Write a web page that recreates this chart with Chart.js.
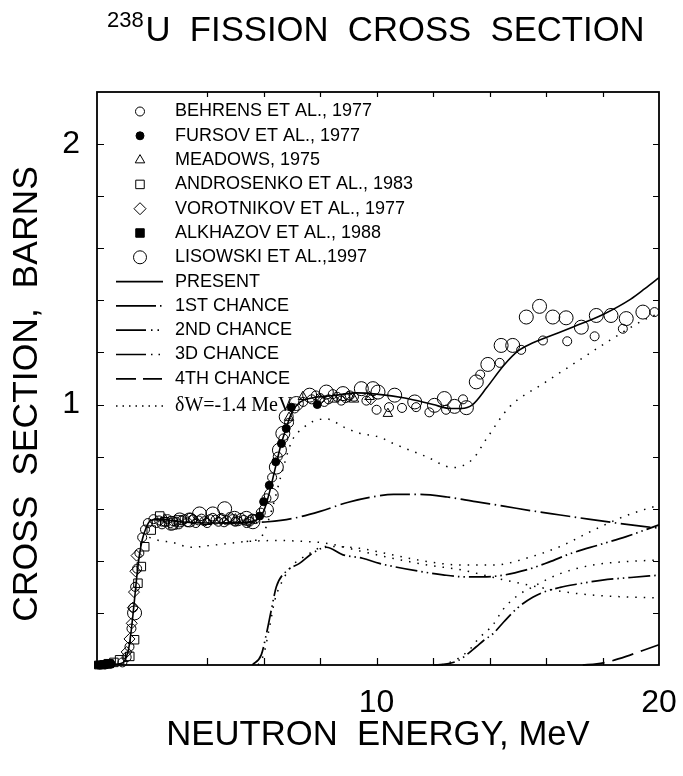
<!DOCTYPE html>
<html><head><meta charset="utf-8">
<script src="https://cdn.jsdelivr.net/npm/chart.js@4.4.1/dist/chart.umd.min.js"></script>
<style>html,body{margin:0;padding:0;background:#fff;}#wrap{width:683px;height:776px;}</style>
</head><body><div id="wrap"><canvas id="c" width="683" height="776"></canvas></div>
<script>
// ---------- data (energy in MeV, cross section in barns) ----------
const xTickLabels = [10, 20];
const yTickLabels = [1, 2];

const presentE = [0.1,0.5,0.9,1.1,1.25,1.4,1.5,1.6,1.7,1.85,2.0,2.3,3.0,4.0,5.0,5.5,5.8,6.0,6.2,6.4,6.6,6.8,7.0,7.3,7.7,8.5,9.3,10.0,11.0,12.0,12.6,13.0,13.4,13.9,14.5,15.0,15.5,16.0,17.0,18.0,19.0,19.5,20.0];
const presentS = [0.0,0.0,0.005,0.02,0.08,0.22,0.33,0.42,0.48,0.53,0.555,0.56,0.55,0.545,0.545,0.55,0.56,0.59,0.66,0.75,0.84,0.91,0.97,1.01,1.025,1.035,1.045,1.04,1.025,1.0,0.985,0.985,1.0,1.065,1.15,1.205,1.235,1.257,1.30,1.345,1.405,1.445,1.487];

const firstE = [4.5,5.5,6.15,7.0,8.0,9.0,10.0,10.6,11.5,12.5,13.5,14.5,15.5,16.5,17.5,18.5,20.0];
const firstS = [0.545,0.547,0.55,0.562,0.59,0.625,0.648,0.655,0.655,0.645,0.627,0.61,0.592,0.576,0.56,0.545,0.525];

const secondE = [5.6,5.92,6.1,6.27,6.45,6.8,7.27,7.74,8.22,8.81,9.5,10.1,10.6,11.5,12.35,13.2,14.1,15.3,16.1,16.9,17.9,18.84,20.0];
const secondS = [0.0,0.04,0.12,0.21,0.30,0.36,0.39,0.43,0.452,0.423,0.41,0.39,0.378,0.36,0.346,0.338,0.34,0.365,0.395,0.429,0.462,0.493,0.538];

const thirdE = [12.0,12.5,12.9,13.2,13.53,13.8,14.12,14.5,15.0,15.53,16.0,16.5,17.07,18.0,19.0,20.0];
const thirdS = [0.0,0.004,0.018,0.04,0.07,0.095,0.12,0.165,0.22,0.26,0.283,0.298,0.31,0.326,0.336,0.345];

const fourthE = [17.3,17.8,18.3,18.84,19.4,20.0];
const fourthS = [0.0,0.004,0.015,0.033,0.055,0.078];

// delta W = -1.4 MeV calculations (dotted)
const dwTotalE = [5.4,5.9,6.3,6.6,7.0,7.4,7.74,8.22,8.9,9.4,10.1,10.6,11.76,12.7,13.4,13.9,14.7,15.9,17.07,18.25,19.43,20.0];
const dwTotalS = [0.474,0.49,0.60,0.72,0.86,0.91,0.935,0.945,0.91,0.89,0.875,0.85,0.80,0.758,0.79,0.87,0.99,1.08,1.163,1.246,1.323,1.35];
const dwFirstE = [1.95,2.3,2.8,3.4,4.2,5.4,6.5,7.5,8.2,9.4,10.6,11.8,13.0,14.5,15.7,16.5,17.7,20.0];
const dwFirstS = [0.49,0.478,0.47,0.452,0.46,0.474,0.478,0.474,0.468,0.438,0.409,0.384,0.365,0.327,0.30,0.283,0.268,0.257];
const dwSecondE = [5.8,6.0,6.2,6.4,6.7,7.0,7.5,8.2,9.4,10.6,11.8,13.0,14.2,15.3,16.5,17.7,18.9,20.0];
const dwSecondS = [0.0,0.04,0.14,0.25,0.33,0.38,0.42,0.455,0.448,0.422,0.397,0.384,0.384,0.41,0.455,0.519,0.576,0.614];
const dwThirdE = [12.3,12.8,13.3,13.6,14.12,14.47,14.95,15.53,16.48,17.66,18.84,20.0];
const dwThirdS = [0.0,0.02,0.06,0.10,0.154,0.212,0.263,0.30,0.35,0.384,0.397,0.403];

// experimental points
const behrensE = [1.0,1.15,1.25,1.32,1.38,1.45,1.52,1.6,1.7,1.8,1.9,2.1,2.2,2.3,2.4,2.5,2.6,2.7,2.8,2.9,3.0,3.1,3.2,3.3,3.4,3.5,3.6,3.7,3.8,3.9,4.0,4.1,4.2,4.3,4.4,4.5,4.6,4.7,4.8,4.9,5.0,5.1,5.2,5.3,5.4,5.5,5.6,5.7,5.9,6.1,6.3,6.5,6.7,6.9,7.1,7.4,7.7,7.85,8.0,8.15,8.3,8.45,8.6,8.75,8.9,9.05,9.2,9.64,10.0,10.44,10.9,11.4,11.87,12.46,13.06,13.67,14.36,15.12,15.89,16.75,17.72,18.72,19.84];
const behrensS = [0.01,0.03,0.07,0.14,0.22,0.30,0.37,0.43,0.49,0.52,0.545,0.56,0.545,0.555,0.54,0.55,0.56,0.545,0.552,0.55,0.54,0.555,0.56,0.548,0.565,0.56,0.545,0.555,0.562,0.552,0.545,0.56,0.565,0.558,0.55,0.565,0.548,0.555,0.568,0.56,0.55,0.552,0.565,0.557,0.545,0.55,0.562,0.56,0.585,0.64,0.72,0.80,0.87,0.93,0.985,1.01,1.02,1.035,1.025,1.01,1.02,1.04,1.03,1.015,1.025,1.035,1.03,1.015,0.98,0.99,0.987,0.99,0.97,0.98,1.02,1.115,1.16,1.21,1.246,1.243,1.262,1.291,1.355];

const fursovE = [0.2,0.4,0.6,5.86,6.0,6.2,6.43,6.63,6.8,6.98,7.9];
const fursovS = [0.0,0.0,0.004,0.572,0.627,0.69,0.78,0.85,0.908,0.99,1.0];

const meadowsE = [2.5,4.0,5.0,6.9,7.39,8.5,9.2,9.75,10.4];
const meadowsS = [0.56,0.55,0.56,0.95,1.03,1.02,1.02,1.03,0.965];

const androsenkoE = [0.5,0.7,0.9,1.26,1.43,1.55,1.67,1.79,2.02,2.32,2.5,2.79,3.0];
const androsenkoS = [0.005,0.01,0.02,0.033,0.097,0.314,0.378,0.454,0.518,0.572,0.55,0.538,0.557];

const vorotnikovE = [1.15,1.25,1.33,1.37,1.41,1.46,1.5,3.5,4.5,5.5,8.0,9.0,9.8];
const vorotnikovS = [0.05,0.1,0.16,0.22,0.28,0.36,0.42,0.56,0.56,0.555,1.02,1.03,1.02];

const alkhazovE = [0.15,0.25,0.35,0.45,0.55];
const alkhazovS = [0.0,0.0,0.002,0.003,0.005];

const lisowskiE = [1.43,2.73,3.03,3.38,3.73,4.2,4.62,4.97,5.39,5.62,6.1,6.27,6.45,6.56,6.68,6.8,7.16,7.63,8.22,8.81,9.46,9.87,10.05,10.64,11.35,12.05,12.4,12.76,13.18,13.53,13.94,14.41,14.82,15.3,15.77,16.24,16.71,17.25,17.78,18.3,18.84,19.43];
const lisowskiS = [0.2,0.544,0.557,0.557,0.58,0.58,0.60,0.563,0.563,0.55,0.595,0.652,0.76,0.825,0.889,0.953,1.004,1.036,1.048,1.042,1.061,1.061,1.048,1.036,1.01,0.997,1.023,0.993,0.988,1.087,1.154,1.227,1.227,1.336,1.377,1.336,1.333,1.297,1.342,1.342,1.33,1.355];

// ---------- helpers ----------
const pts = (E, S) => E.map((e, i) => ({x: e, y: S[i]}));
const SANS = '"Liberation Sans", Arial, Helvetica, sans-serif';
const SERIF = '"Liberation Serif", "Times New Roman", serif';
const DOT = [1.5, 7];

function lineDS(label, E, S, dash, width) {
  return {label, data: pts(E, S), showLine: true, pointRadius: 0, borderColor: '#000',
    borderWidth: width, borderDash: dash, cubicInterpolationMode: 'monotone', fill: false, clip: false};
}
function pointDS(label, E, S, style, r, filled) {
  return {label, data: pts(E, S), showLine: false, pointStyle: style, pointRadius: r,
    pointBorderColor: '#000', pointBackgroundColor: filled ? '#000' : 'rgba(0,0,0,0)',
    pointBorderWidth: 1, clip: false};
}

const datasets = [
  lineDS('PRESENT', presentE, presentS, [], 1.6),
  lineDS('1ST CHANCE', firstE, firstS, [30, 4.5, 1.5, 4.5], 1.7),
  lineDS('2ND CHANCE', secondE, secondS, [22, 4, 1.5, 4, 1.5, 4], 1.7),
  lineDS('3D CHANCE', thirdE, thirdS, [22, 4, 1.5, 4, 1.5, 4], 1.7),
  lineDS('4TH CHANCE', fourthE, fourthS, [22, 8], 1.7),
  lineDS('δW=-1.4 MeV', dwTotalE, dwTotalS, DOT, 1.5),
  lineDS('δW 1st', dwFirstE, dwFirstS, DOT, 1.5),
  lineDS('δW 2nd', dwSecondE, dwSecondS, DOT, 1.5),
  lineDS('δW 3rd', dwThirdE, dwThirdS, DOT, 1.5),
  pointDS('BEHRENS ET AL., 1977', behrensE, behrensS, 'circle', 4.5, false),
  pointDS('FURSOV ET AL., 1977', fursovE, fursovS, 'circle', 4, true),
  pointDS('MEADOWS, 1975', meadowsE, meadowsS, 'triangle', 5.5, false),
  pointDS('ANDROSENKO ET AL., 1983', androsenkoE, androsenkoS, 'rect', 6, false),
  pointDS('VOROTNIKOV ET AL., 1977', vorotnikovE, vorotnikovS, 'rectRot', 5.5, false),
  pointDS('ALKHAZOV ET AL., 1988', alkhazovE, alkhazovS, 'rect', 5.5, true),
  pointDS('LISOWSKI ET AL.,1997', lisowskiE, lisowskiS, 'circle', 7, false)
];

// ---------- legend (drawn inside plot area) ----------
const legendRows = [
  {t: 'BEHRENS ET AL., 1977', pt: 'circle', r: 4.5, f: false},
  {t: 'FURSOV ET AL., 1977', pt: 'circle', r: 4, f: true},
  {t: 'MEADOWS, 1975', pt: 'triangle', r: 5.5, f: false},
  {t: 'ANDROSENKO ET AL., 1983', pt: 'rect', r: 6, f: false},
  {t: 'VOROTNIKOV ET AL., 1977', pt: 'rectRot', r: 6, f: false},
  {t: 'ALKHAZOV ET AL., 1988', pt: 'rect', r: 6, f: true},
  {t: 'LISOWSKI ET AL.,1997', pt: 'circle', r: 6.5, f: false},
  {t: 'PRESENT', dash: []},
  {t: '1ST CHANCE', dash: [40, 4, 1.5, 10]},
  {t: '2ND CHANCE', dash: [30, 5, 1.5, 5, 1.5, 10]},
  {t: '3D CHANCE', dash: [30, 5, 1.5, 6, 1.5, 10]},
  {t: '4TH CHANCE', dash: [20, 7, 19, 10]},
  {t: 'δW=-1.4 MeV', dash: [1.5, 5], serif: true}
];

const legendPlugin = {
  id: 'insideLegend',
  afterDatasetsDraw(chart) {
    const ctx = chart.ctx;
    ctx.save();
    legendRows.forEach((row, i) => {
      const y = 111.5 + i * 24.3 + (row.serif ? 3 : 0);
      if (row.pt) {
        ctx.fillStyle = row.f ? '#000' : 'rgba(0,0,0,0)';
        ctx.strokeStyle = '#000';
        ctx.lineWidth = 1;
        Chart.helpers.drawPoint(ctx, {pointStyle: row.pt, radius: row.r, borderWidth: 1, rotation: 0}, 140, y);
      } else {
        ctx.strokeStyle = '#000';
        ctx.lineWidth = row.serif ? 1.5 : 1.7;
        ctx.setLineDash(row.dash);
        ctx.beginPath();
        ctx.moveTo(116, y);
        ctx.lineTo(163, y);
        ctx.stroke();
        ctx.setLineDash([]);
      }
      ctx.fillStyle = '#000';
      ctx.textBaseline = 'middle';
      ctx.textAlign = 'left';
      ctx.font = row.serif ? '20px ' + SERIF : '18px ' + SANS;
      ctx.fillText(row.t, 175, y);
    });
    ctx.restore();
  }
};

// ---------- frame with inward ticks ----------
const framePlugin = {
  id: 'frame',
  afterDraw(chart) {
    const {ctx, chartArea: a, scales: {x, y}} = chart;
    ctx.save();
    ctx.strokeStyle = '#000';
    ctx.lineWidth = 1.8;
    ctx.strokeRect(a.left, a.top, a.right - a.left, a.bottom - a.top);
    ctx.lineWidth = 1.2;
    ctx.beginPath();
    x.ticks.forEach(t => {
      if (t.value <= x.min + 0.5 || t.value >= x.max - 0.01) return;
      const px = Math.round(x.getPixelForValue(t.value)) + 0.5;
      ctx.moveTo(px, a.bottom); ctx.lineTo(px, a.bottom - 7);
      ctx.moveTo(px, a.top); ctx.lineTo(px, a.top + 5);
    });
    y.ticks.forEach(t => {
      if (t.value <= y.min + 0.01 || t.value >= y.max - 0.01) return;
      const py = Math.round(y.getPixelForValue(t.value)) + 0.5;
      ctx.moveTo(a.left, py); ctx.lineTo(a.left + 7, py);
      ctx.moveTo(a.right, py); ctx.lineTo(a.right - 6, py);
    });
    ctx.stroke();
    ctx.restore();
  }
};

// ---------- title with superscript, rotated y title ----------
const titlePlugin = {
  id: 'supTitle',
  afterDraw(chart) {
    const ctx = chart.ctx;
    ctx.save();
    ctx.fillStyle = '#000';
    ctx.textAlign = 'left';
    ctx.textBaseline = 'alphabetic';
    ctx.font = '22px ' + SANS;
    ctx.fillText('238', 107, 27);
    ctx.font = '34.7px ' + SANS;
    ctx.fillText('U  FISSION  CROSS  SECTION', 145.5, 41);
    ctx.restore();
    // y axis title
    ctx.save();
    ctx.translate(27, 394);
    ctx.rotate(-Math.PI / 2);
    ctx.fillStyle = '#000';
    ctx.textAlign = 'center';
    ctx.textBaseline = 'middle';
    ctx.font = '35.5px ' + SANS;
    ctx.fillText('CROSS  SECTION,  BARNS', 0, 0);
    ctx.restore();
  }
};

const near = (v, list) => list.some(l => Math.abs(v - l) < 1e-6);

new Chart(document.getElementById('c').getContext('2d'), {
  type: 'scatter',
  data: {datasets},
  options: {
    responsive: false, animation: false, devicePixelRatio: 1,
    layout: {padding: {top: 92, right: 24, left: 0, bottom: 0}},
    plugins: {legend: {display: false}, tooltip: {enabled: false}, title: {display: false}},
    scales: {
      x: {
        type: 'linear', min: 0.1, max: 20,
        afterFit(s) { s.height = 111; },
        grid: {display: false, drawTicks: false},
        border: {display: false},
        ticks: {stepSize: 2, autoSkip: false, maxRotation: 0, padding: 0, color: '#000',
          font: {family: SANS, size: 32, lineHeight: 2.375},
          callback: v => near(v, xTickLabels) ? String(Math.round(v)) : ''},
        title: {display: true, text: 'NEUTRON  ENERGY, MeV', color: '#000',
          font: {family: SANS, size: 34.7}, padding: {top: 0, bottom: 20}}
      },
      y: {
        type: 'linear', min: 0, max: 2.2,
        afterFit(s) { s.width = 97; },
        grid: {display: false, drawTicks: false},
        border: {display: false},
        ticks: {stepSize: 0.2, autoSkip: false, padding: 17, color: '#000',
          font: {family: SANS, size: 32},
          callback: v => near(v, yTickLabels) ? String(Math.round(v)) : ''},
        title: {display: false}
      }
    }
  },
  plugins: [legendPlugin, framePlugin, titlePlugin]
});
</script>
</body></html>
